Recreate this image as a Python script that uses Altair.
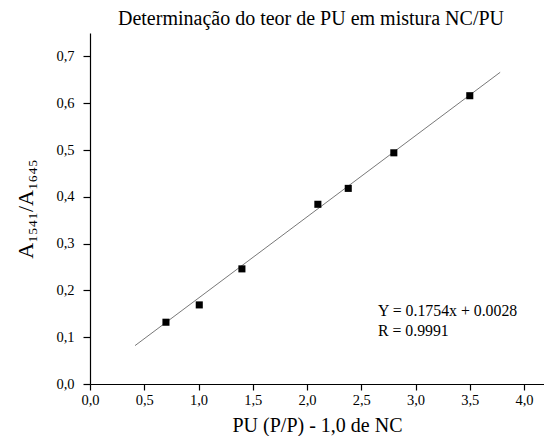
import altair as alt
import pandas as pd

# data
pu_x = [0.70, 1.007, 1.40, 2.10, 2.38, 2.80, 3.50]
ratio_y = [0.132, 0.169, 0.246, 0.384, 0.418, 0.494, 0.616]
fit_x = [0.415, 3.78]
fit_y = [0.082, 0.666]
note_text = ["Y = 0.1754x + 0.0028", "R = 0.9991"]
note_x = [2.654, 2.654]
note_y = [0.156, 0.114]
x_ticks = [i * 0.25 for i in range(17)]
y_ticks = [round(i * 0.05, 2) for i in range(16)]

FONT = "Liberation Serif"

pts = pd.DataFrame({"x": pu_x, "y": ratio_y})
fit = pd.DataFrame({"x": fit_x, "y": fit_y})
notes = pd.DataFrame({"x": note_x, "y": note_y, "t": note_text})

xscale = alt.Scale(domain=[0, 4.184], nice=False, zero=False)
yscale = alt.Scale(domain=[0, 0.75], nice=False, zero=False)

xaxis = alt.Axis(
    values=x_ticks,
    labelExpr="round(datum.value*100) % 50 == 0 ? replace(format(datum.value, '.1f'), '.', ',') : ''",
    tickSize={"condition": {"test": "round(datum.value*100) % 50 != 0", "value": 4}, "value": 6},
    grid=False, domainColor="black", tickColor="black", domainWidth=1.2, tickWidth=1.2,
    labelFont=FONT, labelFontSize=14.5, labelColor="black", labelPadding=3,
    labelFlush=False, labelOverlap=False,
    title="PU (P/P) - 1,0 de NC", titleFont=FONT, titleFontSize=20,
    titleFontWeight="normal", titleColor="black", titlePadding=9,
)
yaxis = alt.Axis(
    values=y_ticks,
    labelExpr="round(datum.value*100) % 10 == 0 ? replace(format(datum.value, '.1f'), '.', ',') : ''",
    tickSize={"condition": {"test": "round(datum.value*100) % 10 != 0", "value": 4}, "value": 7},
    grid=False, domainColor="black", tickColor="black", domainWidth=1.2, tickWidth=1.2,
    labelFont=FONT, labelFontSize=14.5, labelColor="black", labelPadding=9,
    labelFlush=False, labelOverlap=False,
    title="A₁₅₄₁/A₁₆₄₅", titleFont=FONT, titleFontSize=22,
    titleFontWeight="normal", titleColor="black", titlePadding=18,
)

line = alt.Chart(fit).mark_line(color="#555555", strokeWidth=0.8).encode(
    x=alt.X("x:Q", scale=xscale, axis=xaxis),
    y=alt.Y("y:Q", scale=yscale, axis=yaxis),
)
points = alt.Chart(pts).mark_square(size=50, color="black", opacity=1).encode(
    x=alt.X("x:Q", scale=xscale),
    y=alt.Y("y:Q", scale=yscale),
)
text = alt.Chart(notes).mark_text(
    align="left", baseline="middle", font=FONT, fontSize=15.8, color="black"
).encode(
    x=alt.X("x:Q", scale=xscale),
    y=alt.Y("y:Q", scale=yscale),
    text="t:N",
)

chart = (line + points + text).properties(
    width=454,
    height=351,
    autosize=alt.AutoSizeParams(type="none"),
    padding={"left": 82, "top": 25, "right": 0, "bottom": 52},
    background="white",
    title=alt.TitleParams(
        text="Determinação do teor de PU em mistura NC/PU",
        font=FONT, fontSize=20, fontWeight="normal", color="black",
        anchor="middle", dx=-6, offset=4,
    ),
).configure_view(stroke=None)

chart.save("out.html", embed_options={"renderer": "svg", "actions": False})
